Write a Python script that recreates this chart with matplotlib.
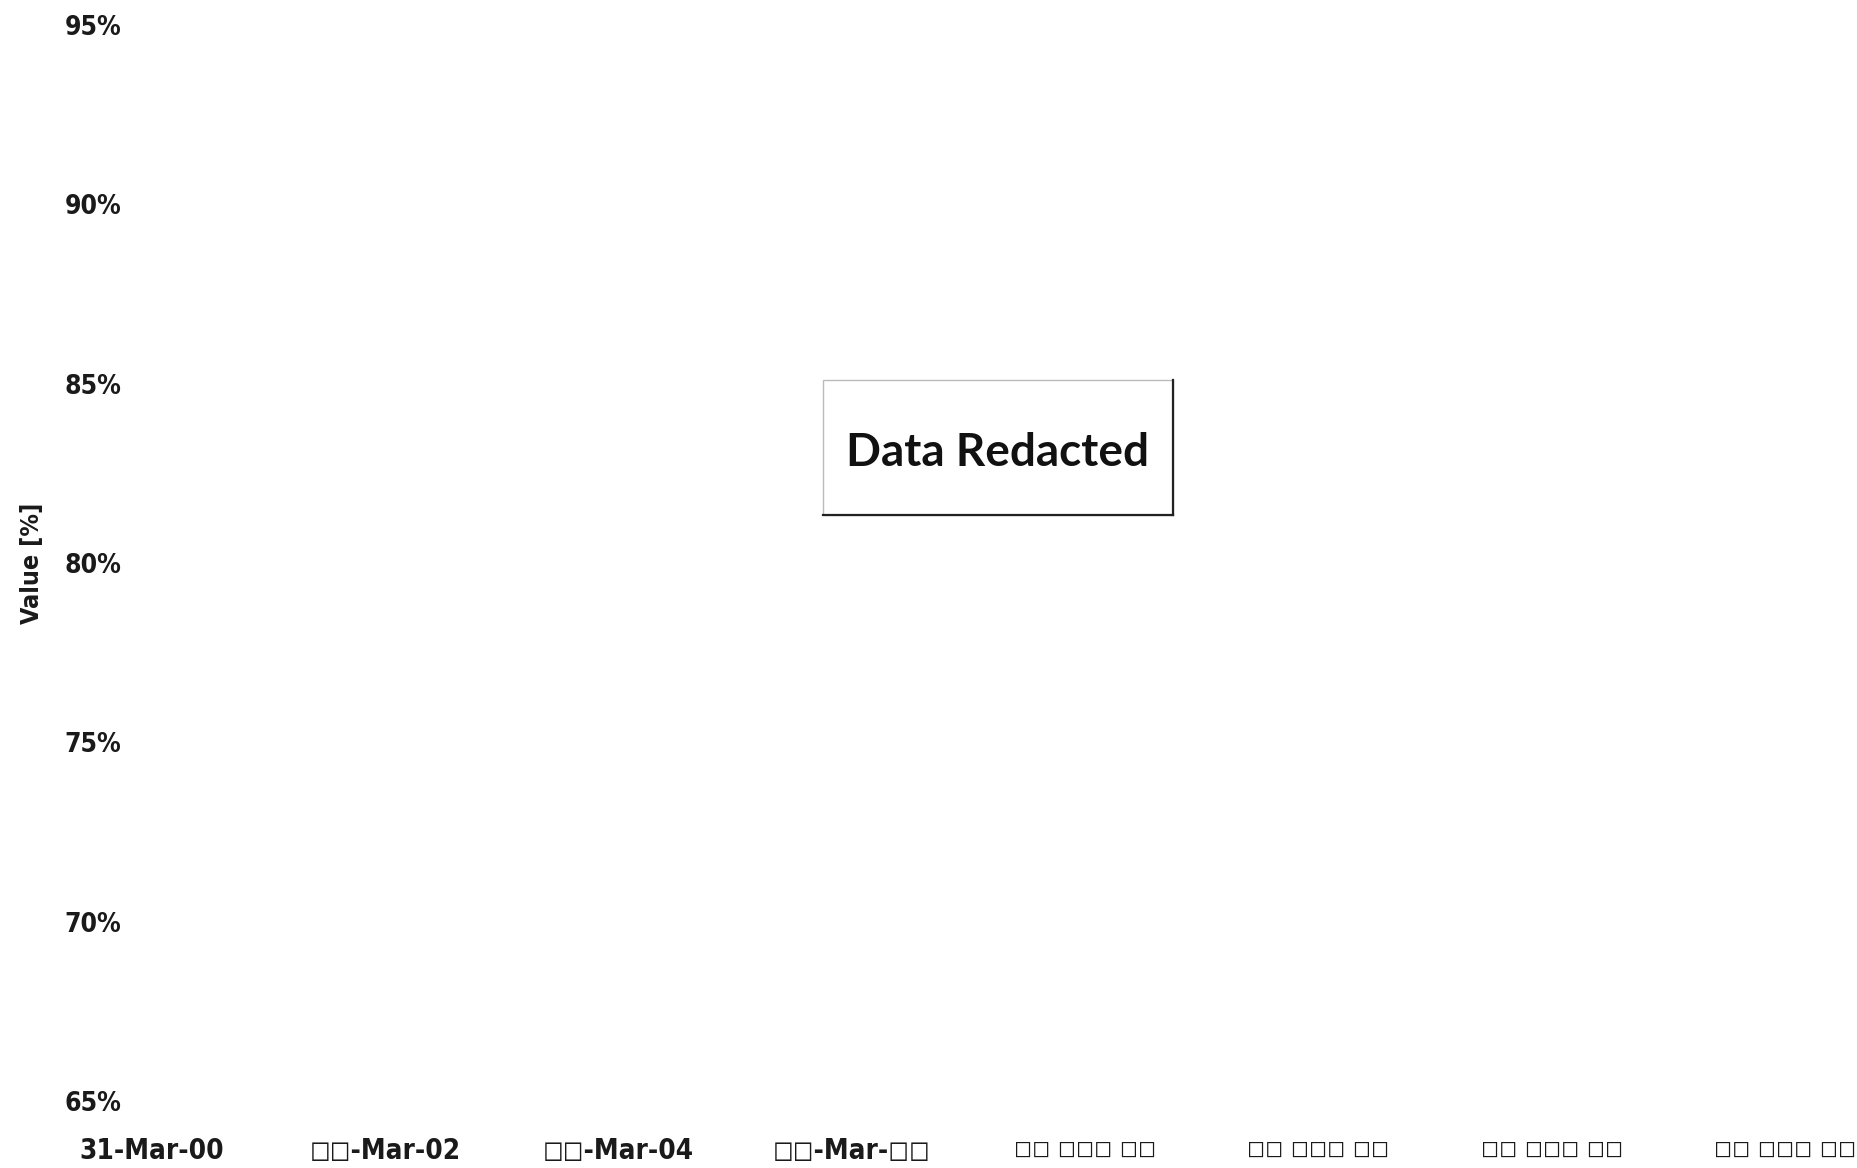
import matplotlib
matplotlib.use("Agg")
import matplotlib.pyplot as plt
from matplotlib.patches import Rectangle
from matplotlib.lines import Line2D

# ---- data (chart is redacted: only axes remain) ----
B = "\u25fb"  # stand-in for the missing-glyph boxes shown in the reference
x_labels = ["31-Mar-00", B * 2 + "-Mar-02", B * 2 + "-Mar-04", B * 2 + "-Mar-" + B * 2,
            B * 2 + " " + B * 3 + " " + B * 2, B * 2 + " " + B * 3 + " " + B * 2,
            B * 2 + " " + B * 3 + " " + B * 2, B * 2 + " " + B * 3 + " " + B * 2]
y_ticks = [0.65, 0.70, 0.75, 0.80, 0.85, 0.90, 0.95]
y_label = "Value [%]"
redacted_text = "Data Redacted"

W, H = 1857, 1168
fig = plt.figure(figsize=(W / 100, H / 100), dpi=100)
fig.patch.set_facecolor("white")

left = 152 / W
right = 1785 / W
bottom = 1 - 1101 / H
top = 1 - 25 / H
ax = fig.add_axes([left, bottom, right - left, top - bottom])
ax.set_facecolor("none")

tick_font = ["DejaVu Sans", "Liberation Sans"]
fk = dict(fontfamily=tick_font, fontweight="bold", fontstretch="condensed", color="#1a1a1a")

xs = list(range(len(x_labels)))
ax.set_xlim(xs[0], xs[-1])
ax.set_ylim(y_ticks[0], y_ticks[-1])
ax.set_xticks(xs)
ax.set_xticklabels(x_labels, fontsize=20, **fk)
for lbl in ax.get_xticklabels():
    if "Mar" not in lbl.get_text():
        lbl.set_fontsize(17.5)
ax.set_yticks(y_ticks)
ax.set_yticklabels([f"{int(round(v * 100))}%" for v in y_ticks], fontsize=19, **fk)
ax.tick_params(axis="x", length=0, pad=26)
ax.tick_params(axis="y", length=0, pad=22)
for s in ax.spines.values():
    s.set_visible(False)

fig.text(32 / W, 1 - 563 / H, y_label, rotation=90, ha="center", va="center",
         fontsize=18, **fk)

# redacted box
bx0, bx1, by0, by1 = 823 / W, 1173 / W, 1 - 515 / H, 1 - 380 / H
fig.patches.append(Rectangle((bx0, by0), bx1 - bx0, by1 - by0, transform=fig.transFigure,
                             facecolor="white", edgecolor="#bbbbbb", linewidth=1.0, zorder=5))
fig.lines.append(Line2D([bx1, bx1], [by0, by1], transform=fig.transFigure, color="#222222", lw=1.6, zorder=6))
fig.lines.append(Line2D([bx0, bx1], [by0, by0], transform=fig.transFigure, color="#222222", lw=1.6, zorder=6))
fig.text((bx0 + bx1) / 2, 1 - 453 / H, redacted_text, ha="center", va="center",
         fontfamily=["Lato", "DejaVu Sans"], fontweight="bold", fontsize=33, color="#111111", zorder=7)

fig.savefig("out.png", dpi=100)
